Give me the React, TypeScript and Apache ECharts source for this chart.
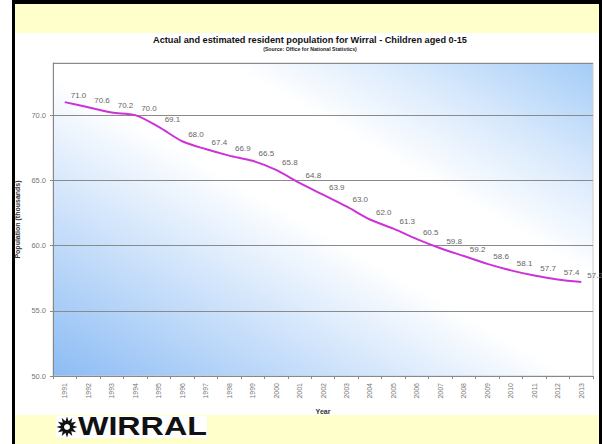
import React, { useEffect, useRef } from "react";
import * as echarts from "echarts";

const years = ["1991","1992","1993","1994","1995","1996","1997","1998","1999","2000","2001","2002","2003","2004","2005","2006","2007","2008","2009","2010","2011","2012","2013"];
const population = [71.0,70.6,70.2,70.0,69.1,68.0,67.4,66.9,66.5,65.8,64.8,63.9,63.0,62.0,61.3,60.5,59.8,59.2,58.6,58.1,57.7,57.4,57.2];
const titleText = "Actual and estimated resident population for Wirral - Children aged 0-15";
const subtitleText = "(Source: Office for National Statistics)";
const yName = "Population (thousands)";
const xName = "Year";

function starPoints(cx: number, cy: number, r1: number, r2: number, n: number) {
  const pts: number[][] = [];
  for (let i = 0; i < n * 2; i++) {
    const r = i % 2 === 0 ? r1 : r2;
    const a = (Math.PI * i) / n - Math.PI / 2;
    pts.push([cx + r * Math.cos(a), cy + r * Math.sin(a)]);
  }
  return pts;
}

export default function App() {
  const ref = useRef<HTMLDivElement>(null);
  useEffect(() => {
    document.body.style.margin = "0";
    const chart = echarts.init(ref.current!, null, { renderer: "svg" });
    const font = "Liberation Sans, Arial, sans-serif";
    chart.setOption({
      animation: false,
      backgroundColor: "#ffffff",
      textStyle: { fontFamily: font },
      title: [
        { text: titleText, left: 305, top: 30, textAlign: "center",
          textStyle: { fontSize: 9.2, fontWeight: "bold", color: "#111", fontFamily: font } },
        { text: subtitleText, left: 305, top: 41, textAlign: "center",
          textStyle: { fontSize: 5.2, fontWeight: "bold", color: "#222", fontFamily: font } },
      ],
      graphic: [
        { type: "rect", shape: { x: 15, y: 4, width: 584, height: 29 }, style: { fill: "#ffffcc" }, silent: true },
        { type: "rect", shape: { x: 15, y: 415, width: 584, height: 29 }, style: { fill: "#ffffcc" }, silent: true },
        { type: "rect", shape: { x: 12, y: 0, width: 590, height: 4 }, style: { fill: "#000" }, silent: true },
        { type: "rect", shape: { x: 12, y: 0, width: 3, height: 444 }, style: { fill: "#000" }, silent: true },
        { type: "rect", shape: { x: 599, y: 0, width: 3, height: 444 }, style: { fill: "#000" }, silent: true },
        { type: "rect", shape: { x: 56, y: 416, width: 151, height: 22 }, style: { fill: "#ffffff" }, silent: true },
        { type: "polygon", shape: { points: starPoints(67, 427, 10.5, 6, 12) }, style: { fill: "#111" }, silent: true },
        { type: "circle", shape: { cx: 67, cy: 427, r: 3 }, style: { fill: "#fff" }, silent: true },
        { type: "text", x: 78, y: 439, scaleX: 1.24, style: { text: "WIRRAL", fill: "#111", font: "bold 26px Liberation Sans, Arial, sans-serif", textVerticalAlign: "bottom", textBaseline: "bottom" }, silent: true },
      ],
      grid: {
        left: 53, right: 9, top: 63, bottom: 68, show: true,
        borderColor: "#cfcfcf", borderWidth: 1,
        backgroundColor: {
          type: "linear", x: 0, y: 1, x2: 1, y2: 0,
          colorStops: [
            { offset: 0, color: "#8cbcf4" },
            { offset: 0.28, color: "#cfe3fb" },
            { offset: 0.48, color: "#ffffff" },
            { offset: 0.66, color: "#ffffff" },
            { offset: 0.82, color: "#d8e9fc" },
            { offset: 1, color: "#a4ccf7" },
          ],
        },
      },
      xAxis: {
        type: "category", data: years, boundaryGap: true,
        name: xName, nameLocation: "middle", nameGap: 32,
        nameTextStyle: { fontSize: 7, fontWeight: "bold", color: "#333" },
        axisLine: { lineStyle: { color: "#888" } },
        axisTick: { show: true, length: 3, lineStyle: { color: "#888" } },
        axisLabel: { rotate: 90, fontSize: 7, color: "#777", margin: 7, interval: 0 },
      },
      yAxis: {
        type: "value", min: 50, max: 74, interval: 5,
        name: yName, nameLocation: "middle", nameGap: 30,
        nameTextStyle: { fontSize: 7, fontWeight: "bold", color: "#333" },
        axisLine: { show: true, lineStyle: { color: "#888" } },
        axisTick: { show: true, length: 3, lineStyle: { color: "#888" } },
        axisLabel: { fontSize: 7.5, color: "#777", margin: 7, showMaxLabel: false,
          formatter: (v: number) => (v % 5 === 0 ? v.toFixed(1) : "") },
        splitLine: { show: true, lineStyle: { color: "#8a8a8a", width: 1 } },
      },
      series: [
        {
          type: "line", data: population, smooth: 0.3,
          symbol: "circle", symbolSize: 0, showSymbol: true,
          lineStyle: { color: "#cc33d6", width: 2 },
          itemStyle: { color: "#cc33d6" },
          label: { show: true, position: "right", distance: 6, offset: [0, -7],
            fontSize: 8, color: "#666", formatter: (p: any) => Number(p.value).toFixed(1) },
        },
      ],
    });
    return () => chart.dispose();
  }, []);
  return <div ref={ref} style={{ width: 602, height: 444 }} />;
}
